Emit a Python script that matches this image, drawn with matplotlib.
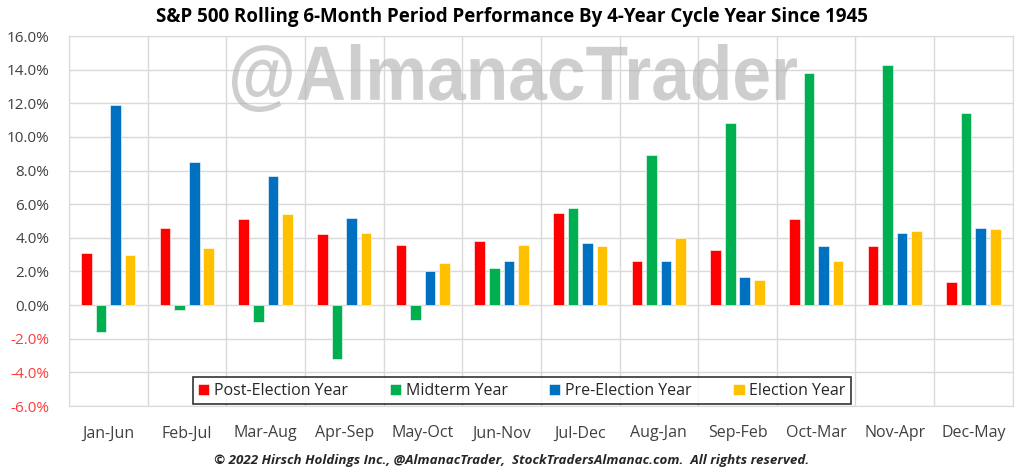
import numpy as np
import matplotlib
matplotlib.use('Agg')
from matplotlib import pyplot as plt
from matplotlib.ticker import FuncFormatter
from matplotlib.textpath import TextPath
from matplotlib.font_manager import FontProperties
from matplotlib.patches import PathPatch
from matplotlib.transforms import Affine2D

plt.rcParams['font.family'] = ['Open Sans', 'DejaVu Sans']

periods = ['Jan-Jun', 'Feb-Jul', 'Mar-Aug', 'Apr-Sep', 'May-Oct', 'Jun-Nov',
           'Jul-Dec', 'Aug-Jan', 'Sep-Feb', 'Oct-Mar', 'Nov-Apr', 'Dec-May']
post_election = [3.1, 4.6, 5.1, 4.2, 3.6, 3.8, 5.5, 2.6, 3.3, 5.1, 3.5, 1.4]
midterm = [-1.6, -0.3, -1.0, -3.2, -0.9, 2.2, 5.8, 8.9, 10.8, 13.8, 14.3, 11.4]
pre_election = [11.9, 8.5, 7.7, 5.2, 2.0, 2.6, 3.7, 2.6, 1.7, 3.5, 4.3, 4.6]
election = [3.0, 3.4, 5.4, 4.3, 2.5, 3.6, 3.5, 4.0, 1.5, 2.6, 4.4, 4.5]

series = [('Post-Election Year', post_election, '#ff0000'),
          ('Midterm Year', midterm, '#00b050'),
          ('Pre-Election Year', pre_election, '#0070c0'),
          ('Election Year', election, '#ffc000')]

fig = plt.figure(figsize=(10.24, 4.72), dpi=100)
ax = fig.add_axes([0.0674, 0.1398, 0.9216, 0.7839])

x = np.arange(len(periods))
pitch = 0.185
width = 0.135
for i, (name, vals, col) in enumerate(series):
    ax.bar(x + (i - 1.5) * pitch, vals, width, color=col, label=name,
           edgecolor='white', linewidth=0.4, zorder=3)

ax.set_xlim(-0.5, len(periods) - 0.5)
ax.set_ylim(-6, 16)
ax.set_yticks(np.arange(-6, 17, 2))
ax.yaxis.set_major_formatter(FuncFormatter(lambda v, p: '%.1f%%' % v))
ax.set_xticks(x)
ax.set_xticklabels(periods)
ax.set_xticks(np.arange(-0.5, len(periods)), minor=True)
ax.grid(axis='y', color='#d9d9d9', linewidth=1, zorder=0)
ax.grid(axis='x', which='minor', color='#d9d9d9', linewidth=1, zorder=0)
ax.tick_params(axis='both', which='both', length=0)
ax.tick_params(axis='y', labelsize=11, pad=14, colors='#404040')
ax.tick_params(axis='x', labelsize=11.5, pad=14, colors='#404040')
for lbl, v in zip(ax.get_yticklabels(), np.arange(-6, 17, 2)):
    if v < 0:
        lbl.set_color('#ff3b3b')
for s in ax.spines.values():
    s.set_color('#d9d9d9')

# watermark: condensed bold text, squeezed into a box in pixel coords
tp = TextPath((0, 0), '@AlmanacTrader', size=100,
              prop=FontProperties(family='Liberation Sans', weight='bold'))
bb = tp.get_extents()
x0, x1, y0, y1 = 232, 797, 472 - 112, 472 - 44
tr = Affine2D().translate(-bb.x0, -bb.y0).scale((x1 - x0) / bb.width, (y1 - y0) / bb.height).translate(x0, y0)
wm = PathPatch(tr.transform_path(tp), facecolor='#b4b4b4', edgecolor='none', alpha=0.65,
               transform=None, zorder=2)
fig.patches.append(wm)

leg = ax.legend(loc='lower center', bbox_to_anchor=(0.48, 0.0), ncol=4, frameon=True,
                fancybox=False, edgecolor='black', fontsize=11.5, handlelength=0.7,
                handleheight=0.7, columnspacing=2.6, handletextpad=0.3,
                borderpad=0.35, borderaxespad=0.1)
leg.get_frame().set_linewidth(1.2)
leg.set_zorder(5)
for t in leg.get_texts():
    t.set_color('#262626')

fig.text(0.5, 0.963, 'S&P 500 Rolling 6-Month Period Performance By 4-Year Cycle Year Since 1945',
         ha='center', va='center', fontsize=13.5, fontweight='bold', color='black')
fig.text(0.5, 0.025, '\u00a9 2022 Hirsch Holdings Inc., @AlmanacTrader,  StockTradersAlmanac.com.  All rights reserved.',
         ha='center', va='center', fontsize=9.6, fontweight='bold', style='italic', color='#262626')

fig.savefig('out.png', dpi=100)
